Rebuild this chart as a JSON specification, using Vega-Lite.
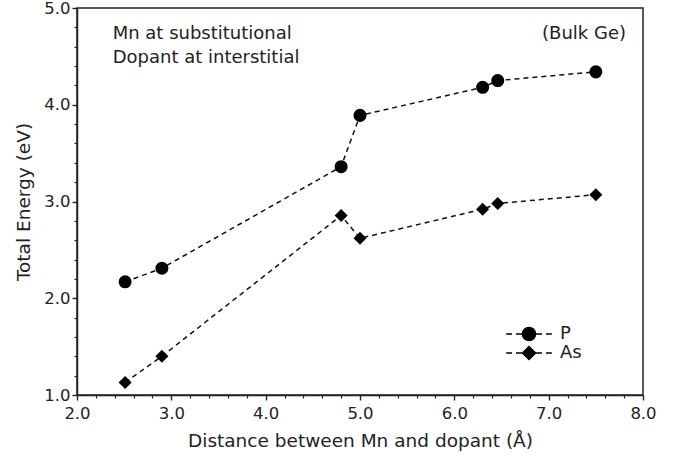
{
  "$schema": "https://vega.github.io/schema/vega-lite/v6.json",
  "width": 566,
  "height": 387,
  "autosize": {"type": "none"},
  "padding": {"left": 77, "top": 8, "right": 41, "bottom": 64},
  "config": {
    "font": "DejaVu Sans",
    "view": {"stroke": "#222", "strokeWidth": 1.5},
    "axis": {
      "grid": false,
      "domainColor": "#222",
      "domainWidth": 1.5,
      "tickColor": "#222",
      "tickWidth": 1.4,
      "labelColor": "#222",
      "titleColor": "#222",
      "labelFont": "DejaVu Sans",
      "titleFont": "DejaVu Sans",
      "labelFontSize": 16.5,
      "titleFontSize": 18.5,
      "titleFontWeight": "normal",
      "labelFlush": false,
      "labelOverlap": false
    }
  },
  "datasets": {
    "points": [
      {"series": "P", "distance": 2.51, "energy": 2.17},
      {"series": "P", "distance": 2.9, "energy": 2.31},
      {"series": "P", "distance": 4.8, "energy": 3.36},
      {"series": "P", "distance": 5.0, "energy": 3.89},
      {"series": "P", "distance": 6.3, "energy": 4.18},
      {"series": "P", "distance": 6.46, "energy": 4.25},
      {"series": "P", "distance": 7.5, "energy": 4.34},
      {"series": "As", "distance": 2.51, "energy": 1.13},
      {"series": "As", "distance": 2.9, "energy": 1.4},
      {"series": "As", "distance": 4.8, "energy": 2.855},
      {"series": "As", "distance": 5.0, "energy": 2.62},
      {"series": "As", "distance": 6.3, "energy": 2.92},
      {"series": "As", "distance": 6.46, "energy": 2.98},
      {"series": "As", "distance": 7.5, "energy": 3.07}
    ],
    "notesLeft": [
      {"x": 2.378, "y": 4.68, "label": "Mn at substitutional"},
      {"x": 2.378, "y": 4.432, "label": "Dopant at interstitial"}
    ],
    "notesRight": [
      {"x": 7.82, "y": 4.68, "label": "(Bulk Ge)"}
    ]
  },
  "resolve": {
    "axis": {"x": "independent", "y": "independent"},
    "scale": {"shape": "independent"},
    "legend": {"shape": "independent"}
  },
  "layer": [
    {
      "data": {"name": "points"},
      "mark": {"type": "line", "strokeDash": [5, 4], "strokeWidth": 1.5, "color": "#111"},
      "encoding": {
        "x": {
          "field": "distance", "type": "quantitative",
          "scale": {"domain": [2, 8], "nice": false, "zero": false},
          "title": "Distance between Mn and dopant (Å)",
          "axis": {
            "orient": "bottom",
            "values": [2, 3, 4, 5, 6, 7, 8],
            "format": ".1f",
            "ticks": true,
            "tickColor": "#222",
            "tickWidth": 1.4,
            "tickOpacity": 1,
            "tickSize": 5,
            "labelPadding": 5,
            "titlePadding": 10
          }
        },
        "y": {
          "field": "energy", "type": "quantitative",
          "scale": {"domain": [1, 5], "nice": false, "zero": false},
          "title": "Total Energy (eV)",
          "axis": {
            "orient": "left",
            "values": [1, 2, 3, 4, 5],
            "format": ".1f",
            "ticks": true,
            "tickColor": "#222",
            "tickWidth": 1.4,
            "tickOpacity": 1,
            "tickSize": 5,
            "labelPadding": 2,
            "titlePadding": 10
          }
        },
        "detail": {"field": "series"}
      }
    },
    {
      "data": {"name": "points"},
      "transform": [{"filter": "datum.series === 'P'"}],
      "mark": {"type": "point", "shape": "circle", "filled": true, "opacity": 1, "size": 170, "color": "#000"},
      "encoding": {
        "x": {"field": "distance", "type": "quantitative", "scale": {"domain": [2, 8], "nice": false, "zero": false}, "axis": null},
        "y": {"field": "energy", "type": "quantitative", "scale": {"domain": [1, 5], "nice": false, "zero": false}, "axis": null}
      }
    },
    {
      "data": {"name": "points"},
      "transform": [{"filter": "datum.series === 'As'"}],
      "mark": {"type": "point", "shape": "diamond", "filled": true, "opacity": 1, "size": 170, "color": "#000"},
      "encoding": {
        "x": {
          "field": "distance", "type": "quantitative",
          "scale": {"domain": [2, 8], "nice": false, "zero": false},
          "axis": {
            "orient": "bottom",
            "title": null,
            "values": [2.2, 2.4, 2.6, 2.8, 3.2, 3.4, 3.6, 3.8, 4.2, 4.4, 4.6, 4.8, 5.2, 5.4, 5.6, 5.8, 6.2, 6.4, 6.6, 6.8, 7.2, 7.4, 7.6, 7.8],
            "labels": false,
            "domain": false,
            "ticks": true,
            "tickColor": "#222",
            "tickWidth": 1.2,
            "tickOpacity": 1,
            "tickSize": 3
          }
        },
        "y": {
          "field": "energy", "type": "quantitative",
          "scale": {"domain": [1, 5], "nice": false, "zero": false},
          "axis": {
            "orient": "left",
            "title": null,
            "values": [1.2, 1.4, 1.6, 1.8, 2.2, 2.4, 2.6, 2.8, 3.2, 3.4, 3.6, 3.8, 4.2, 4.4, 4.6, 4.8],
            "labels": false,
            "domain": false,
            "ticks": true,
            "tickColor": "#222",
            "tickWidth": 1.2,
            "tickOpacity": 1,
            "tickSize": 3
          }
        }
      }
    },
    {
      "data": {"name": "points"},
      "mark": {"type": "point", "filled": false, "opacity": 0, "size": 170, "color": "#000", "strokeWidth": 1.5},
      "encoding": {
        "x": {"field": "distance", "type": "quantitative", "scale": {"domain": [2, 8], "nice": false, "zero": false}, "axis": null},
        "y": {"field": "energy", "type": "quantitative", "scale": {"domain": [1, 5], "nice": false, "zero": false}, "axis": null},
        "shape": {
          "field": "series", "type": "nominal",
          "scale": {
            "domain": ["P", "As"],
            "range": [
              "M-3.5,0H-2.6M-2,0H-1M1,0H2M2.6,0H3.5M1,0A1,1,0,1,1,-1,0A1,1,0,1,1,1,0Z",
              "M-3.5,0H-2.6M-2,0H-1M1,0H2M2.6,0H3.5M-1,0L0,-1L1,0L0,1Z"
            ]
          },
          "legend": {
            "title": null,
            "orient": "none",
            "legendX": 443,
            "legendY": 317,
            "padding": 0,
            "labelFontSize": 18,
            "labelFont": "DejaVu Sans",
            "labelColor": "#222",
            "labelOffset": 22,
            "rowPadding": -1,
            "symbolSize": 170,
            "symbolOpacity": 1,
            "symbolStrokeWidth": 1.5
          }
        }
      }
    },
    {
      "data": {"name": "points"},
      "mark": {"type": "point", "filled": true, "opacity": 0, "size": 170, "color": "#000"},
      "encoding": {
        "x": {"field": "distance", "type": "quantitative", "scale": {"domain": [2, 8], "nice": false, "zero": false}, "axis": null},
        "y": {"field": "energy", "type": "quantitative", "scale": {"domain": [1, 5], "nice": false, "zero": false}, "axis": null},
        "shape": {
          "field": "series", "type": "nominal",
          "scale": {"domain": ["P", "As"], "range": ["circle", "diamond"]},
          "legend": {
            "title": null,
            "orient": "none",
            "legendX": 443,
            "legendY": 317,
            "padding": 0,
            "labelFontSize": 18,
            "labelFont": "DejaVu Sans",
            "labelOpacity": 0,
            "labelOffset": 22,
            "rowPadding": -1,
            "symbolSize": 170,
            "symbolOpacity": 1
          }
        }
      }
    },
    {
      "data": {"name": "notesLeft"},
      "mark": {"type": "text", "align": "left", "baseline": "alphabetic", "fontSize": 18, "font": "DejaVu Sans", "color": "#222"},
      "encoding": {
        "x": {"field": "x", "type": "quantitative", "scale": {"domain": [2, 8], "nice": false, "zero": false}, "axis": null},
        "y": {"field": "y", "type": "quantitative", "scale": {"domain": [1, 5], "nice": false, "zero": false}, "axis": null},
        "text": {"field": "label"}
      }
    },
    {
      "data": {"name": "notesRight"},
      "mark": {"type": "text", "align": "right", "baseline": "alphabetic", "fontSize": 18, "font": "DejaVu Sans", "color": "#222"},
      "encoding": {
        "x": {"field": "x", "type": "quantitative", "scale": {"domain": [2, 8], "nice": false, "zero": false}, "axis": null},
        "y": {"field": "y", "type": "quantitative", "scale": {"domain": [1, 5], "nice": false, "zero": false}, "axis": null},
        "text": {"field": "label"}
      }
    }
  ]
}
